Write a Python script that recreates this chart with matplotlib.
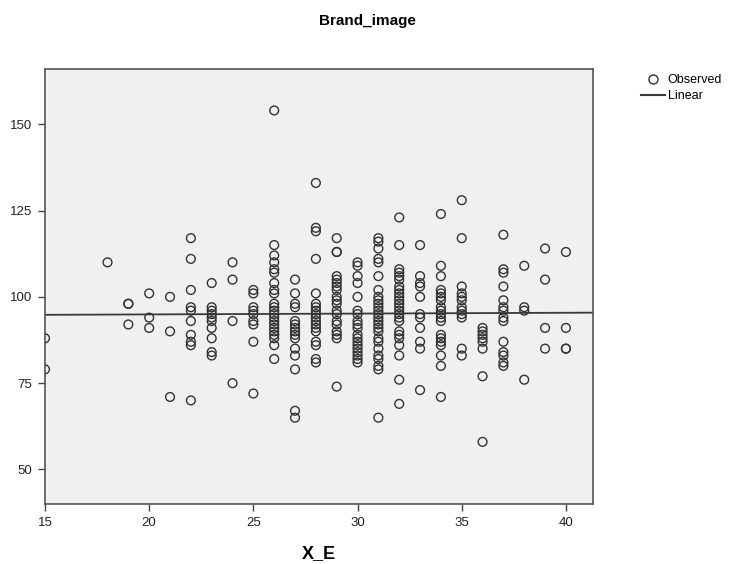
import numpy as np
import matplotlib
matplotlib.use('Agg')
import matplotlib.pyplot as plt
from matplotlib.lines import Line2D

plt.rcParams['font.family'] = ['Liberation Sans', 'DejaVu Sans']

# observed Brand_image values, grouped by X_E
brand_by_xe = {
    15: [88, 79],
    18: [110],
    19: [98, 98, 92],
    20: [101, 94, 91],
    21: [100, 90, 71],
    22: [117, 111, 102, 97, 96, 93, 89, 87, 86, 70],
    23: [104, 97, 96, 95, 94, 93, 91, 88, 84, 83],
    24: [110, 105, 93, 75],
    25: [102, 101, 97, 96, 95, 93, 92, 87, 72],
    26: [154, 115, 112, 110, 108, 107, 104, 102, 101, 98, 97, 96, 95, 94,
         93, 92, 91, 90, 89, 88, 86, 82],
    27: [105, 101, 98, 97, 93, 92, 91, 90, 89, 88, 85, 83, 79, 67, 65],
    28: [133, 120, 119, 111, 101, 98, 97, 96, 95, 94, 93, 92, 91, 90, 87,
         86, 82, 81],
    29: [117, 113, 113, 106, 105, 104, 103, 102, 100, 99, 98, 96, 95, 93,
         92, 90, 89, 88, 74],
    30: [110, 109, 106, 104, 100, 96, 95, 93, 92, 91, 89, 88, 87, 86, 85,
         84, 83, 82, 81],
    31: [117, 116, 114, 111, 110, 106, 102, 100, 99, 98, 97, 96, 95, 94, 93,
         92, 91, 90, 88, 87, 85, 83, 82, 80, 79, 65],
    32: [123, 115, 108, 107, 106, 105, 103, 102, 101, 100, 99, 98, 97, 96,
         95, 94, 93, 90, 89, 88, 86, 83, 76, 69],
    33: [115, 106, 104, 103, 100, 95, 94, 91, 87, 85, 73],
    34: [124, 109, 106, 102, 101, 100, 99, 97, 96, 95, 94, 93, 89, 88, 87,
         86, 83, 80, 71],
    35: [128, 117, 103, 101, 100, 99, 97, 96, 95, 94, 85, 83],
    36: [91, 90, 89, 88, 87, 85, 77, 58],
    37: [118, 108, 107, 103, 99, 97, 96, 94, 93, 87, 84, 83, 81, 80],
    38: [109, 97, 96, 76],
    39: [114, 105, 91, 85],
    40: [113, 91, 85, 85],
}

x_ticks = [15, 20, 25, 30, 35, 40]
y_ticks = [50, 75, 100, 125, 150]

xe = np.array([k for k, v in brand_by_xe.items() for _ in v], dtype=float)
brand = np.array([y for v in brand_by_xe.values() for y in v], dtype=float)

# %%

fig = plt.figure(figsize=(7.3, 5.64), dpi=100)
ax = fig.add_axes([45 / 730, 1 - 504 / 564, 548 / 730, 435 / 564])
ax.set_facecolor('#f0f0f0')

ax.scatter(xe, brand, s=40, facecolors='none', edgecolors='#333333',
           linewidths=1.0, zorder=3)

# linear fit over the full x range
xmin, xmax = 15, 41.3
slope, icpt = np.polyfit(xe, brand, 1)
ax.plot([xmin, xmax], [icpt + slope * xmin, icpt + slope * xmax],
        color='#3a3a3a', lw=1.3, zorder=2)

ax.set_xlim(xmin, xmax)
ax.set_ylim(40, 166)
ax.set_xticks(x_ticks)
ax.set_yticks(y_ticks)
ax.tick_params(direction='out', length=5, width=1, color='#444444',
               labelsize=9.5, labelcolor='#222222', pad=4)
for sp in ax.spines.values():
    sp.set_color('#555555')
    sp.set_linewidth(1.2)

ax.set_xlabel('X_E', fontsize=13, fontweight='bold', labelpad=12)
fig.text(0.504, 1 - 21 / 564, 'Brand_image', ha='center', va='center',
         fontsize=11, fontweight='bold')

handles = [
    Line2D([], [], ls='none', marker='o', markersize=6.5, markerfacecolor='none',
           markeredgecolor='#333333', markeredgewidth=1.0),
    Line2D([], [], color='#3a3a3a', lw=1.5),
]
fig.legend(handles, ['Observed', 'Linear'], loc='upper left',
           bbox_to_anchor=(636 / 730, 1 - 69 / 564), frameon=False,
           fontsize=9, handlelength=1.9, handletextpad=0.25,
           labelspacing=0.35, borderaxespad=0)

fig.savefig('out.png', dpi=100)
